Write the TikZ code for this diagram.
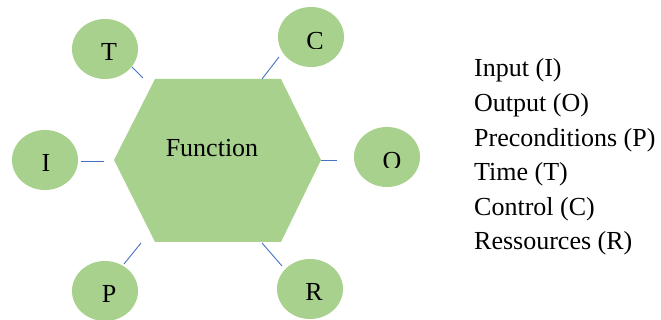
\documentclass[tikz,border=0pt]{standalone}
\usepackage{fontspec}
\setmainfont{Liberation Serif}
\usetikzlibrary{shapes.geometric}
\definecolor{leaf}{HTML}{A9D18E}
\definecolor{wire}{HTML}{4472C4}
\begin{document}
\begin{tikzpicture}[x=1pt,y=-1pt,
  bubble/.style={ellipse,fill=leaf,minimum width=66pt,minimum height=60pt,inner sep=0pt},
  letter/.style={anchor=base,inner sep=0pt,font=\fontsize{26}{30}\selectfont},
  legend/.style={anchor=base west,inner sep=0pt,font=\fontsize{26}{30}\selectfont},
  link/.style={draw=wire,line width=0.9pt}]
\useasboundingbox (0,0) rectangle (661,320);
% hexagon
\coordinate (h1) at (155,79);
\coordinate (h2) at (281,79);
\coordinate (h3) at (321,160);
\coordinate (h4) at (281,242);
\coordinate (h5) at (155,242);
\coordinate (h6) at (114,160);
\fill[leaf] (h1) -- (h2) -- (h3) -- (h4) -- (h5) -- (h6) -- cycle;
\node[letter] (fn) at (212,157) {Function};
% bubbles
\node[bubble] (T) at (105,49) {};
\node[bubble] (C) at (311,37) {};
\node[bubble] (I) at (45,160) {};
\node[bubble] (O) at (387,157) {};
\node[bubble] (P) at (105,291) {};
\node[bubble] (R) at (310,289) {};
\node[letter] (tT) at (109,61) {T};
\node[letter] (tI) at (46,172) {I};
\node[letter] (tP) at (109,302) {P};
\node[letter] (tR) at (314,301) {R};
\begin{scope}
\clip (280,0) rectangle (350,49);
\node[letter] (tC) at (315,50) {C};
\end{scope}
\begin{scope}
\clip (360,120) rectangle (420,168);
\node[letter] (tO) at (392,170) {O};
\end{scope}
% connector ends
\coordinate (aT) at (132,67); \coordinate (bT) at (143,78);
\coordinate (aC) at (279,57); \coordinate (bC) at (262,79);
\coordinate (aI) at (81,161); \coordinate (bI) at (104,161);
\coordinate (aO) at (321,160); \coordinate (bO) at (337,160);
\coordinate (aP) at (124,264); \coordinate (bP) at (141,243);
\coordinate (aR) at (282,266); \coordinate (bR) at (262,243);
\draw[link] (aT) -- (bT);
\draw[link] (aC) -- (bC);
\draw[link] (aI) -- (bI);
\draw[link] (aO) -- (bO);
\draw[link] (aP) -- (bP);
\draw[link] (aR) -- (bR);
% legend
\node[legend] (l1) at (474,77) {Input (I)};
\node[legend] (l2) at (474,112) {Output (O)};
\node[legend] (l3) at (474,147) {Preconditions (P)};
\node[legend] (l4) at (474,181) {Time (T)};
\node[legend] (l5) at (474,216) {Control (C)};
\node[legend] (l6) at (474,250) {Ressources (R)};
\end{tikzpicture}
\end{document}
